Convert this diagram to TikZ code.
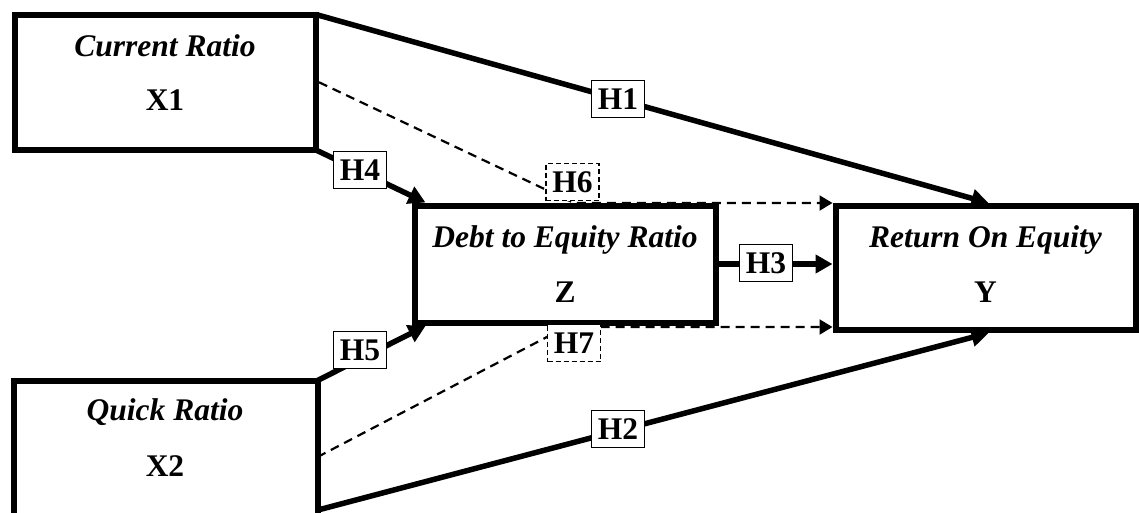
\documentclass[tikz,border=0pt]{standalone}
\usepackage{fontspec}
\setmainfont{Liberation Serif}
\usetikzlibrary{arrows.meta,calc}
\begin{document}
\begin{tikzpicture}[x=1pt,y=-1pt,
  box/.style={draw,line width=6pt,rectangle,inner sep=0pt,fill=white},
  ttl/.style={anchor=base,font=\fontsize{31.5}{36}\selectfont\bfseries\itshape,inner sep=0pt},
  sym/.style={anchor=base,font=\fontsize{31.5}{36}\selectfont\bfseries,inner sep=0pt},
  hlab/.style={draw,fill=white,line width=1.6pt,font=\fontsize{31.5}{36}\selectfont\bfseries,
    inner sep=0pt,minimum width=53pt,minimum height=37pt},
  dlab/.style={hlab,dashed,dash pattern=on 5pt off 3pt},
  arr/.style={line width=5.5pt,-{Triangle[length=17pt,width=18pt]}},
  dsh/.style={line width=2.2pt,dash pattern=on 9pt off 6pt,-{Triangle[length=13pt,width=15pt]}}
]
\useasboundingbox (0,0) rectangle (1139,512);

\node[box,minimum width=301.5pt,minimum height=135.5pt] (x1) at (165.25,82.25) {};
\node[box,minimum width=303.5pt,minimum height=140pt] (x2) at (165.75,451) {};
\node[box,minimum width=301pt,minimum height=117.5pt] (z) at (565,264.25) {};
\node[box,minimum width=300pt,minimum height=124pt] (y) at (985.5,268) {};

% dashed connectors
\coordinate (x2d) at (317.5,457);
\coordinate (h6b) at (574,203);
\coordinate (h7b) at (566,327);
\draw[dsh] (x1.east) -- (h6b) -- (h6b -| y.west);
\draw[dsh] (x2d) -- (h7b) -- (h7b -| y.west);

% redraw Z border on top of dashed lines
\node[box,fill=none,minimum width=301pt,minimum height=117.5pt] (zb2) at (z.center) {};

% texts
\node[ttl] (x1a) at (165,56) {Current Ratio};
\node[sym] (x1b) at (165,110) {X1};
\node[ttl] (x2a) at (165,420) {Quick Ratio};
\node[sym] (x2b) at (165,476) {X2};
\node[ttl] (za) at (565,247) {Debt to Equity Ratio};
\node[sym] (zb) at (565,302) {Z};
\node[ttl] (ya) at (985.5,247) {Return On Equity};
\node[sym] (yb) at (985.5,302) {Y};

% solid connectors
\coordinate (x1c) at (316,14.5);
\coordinate (x1d) at (316,150);
\coordinate (x2c) at (317.5,380.5);
\coordinate (x2e) at (318,510);
\coordinate (h4t) at ($(z.north west)+(14,0)$);
\coordinate (h5t) at ($(z.south west)+(14,0)$);
\draw[arr] (x1c) -- ($(y.north)+(3,0)$);
\draw[arr] (x2e) -- ($(y.south)+(3,0)$);
\draw[arr] (x1d) -- (h4t);
\draw[arr] (x2c) -- (h5t);
\draw[arr] (z.east |- 0,264) -- (y.west |- 0,264);

% labels
\node[hlab] (h1) at (618,99) {H1};
\node[hlab] (h2) at (618,429) {H2};
\node[hlab] (h3) at (766,263) {H3};
\node[hlab] (h4) at (360,170) {H4};
\node[hlab] (h5) at (360,350) {H5};
\node[dlab] (h6) at (572.5,182) {H6};
\node[dlab] (h7) at (574,343) {H7};
\end{tikzpicture}
\end{document}
